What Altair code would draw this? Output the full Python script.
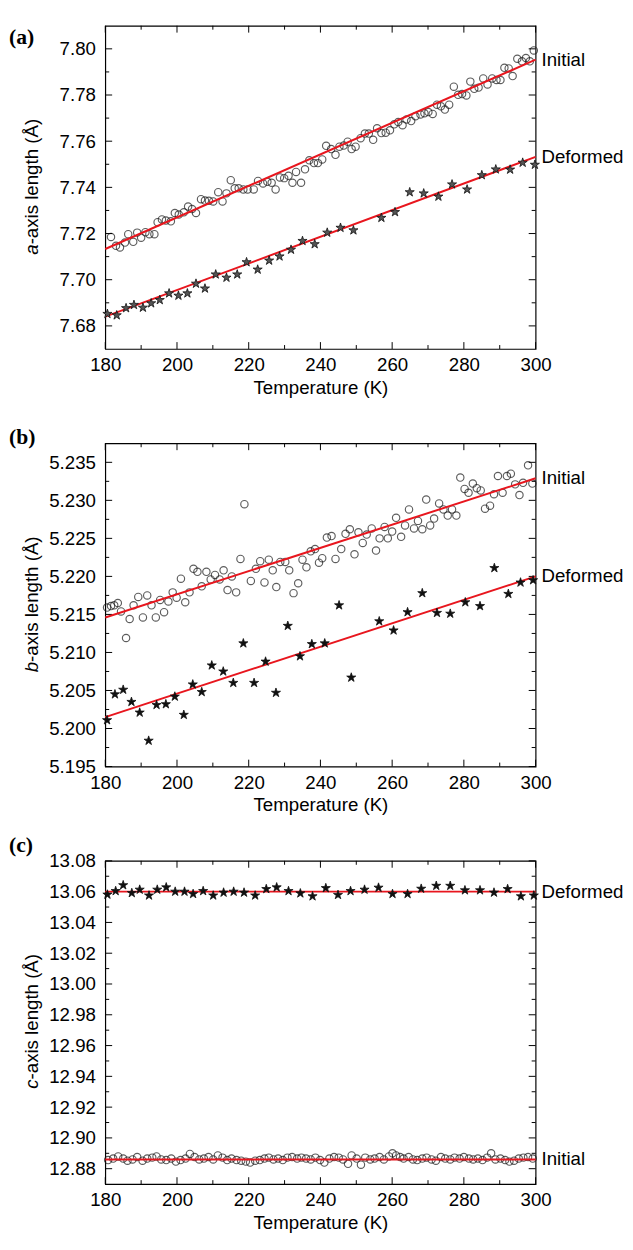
import altair as alt
import pandas as pd

FONT = "Liberation Sans"
RED = "#e8161e"
W, H = 438, 329
FS = 19
STAR = ("M0,-1L0.2245,-0.309L0.9511,-0.309L0.3633,0.118L0.5878,0.809L0,0.382"
        "L-0.5878,0.809L-0.3633,0.118L-0.9511,-0.309L-0.2245,-0.309Z")

T_MAJOR = [180, 200, 220, 240, 260, 280, 300]
T_MINOR = [190, 210, 230, 250, 270, 290]
SERIES = ["Initial", "Deformed"]
PANEL_LETTERS = ["(a)", "(b)", "(c)"]
AXIS_LETTERS = ["a", "b", "c"]
AXIS_REST = "-axis length (Å)"
X_TITLE = "Temperature (K)"

# ---------------- panel (a) ----------------
a_init_T = [181.6, 183.0, 184.1, 185.5, 186.4, 187.8, 188.9, 190.0, 191.2, 192.3,
            193.7, 194.6, 195.8, 196.9, 198.3, 199.4, 200.5, 201.9, 203.1, 204.2,
            205.3, 206.7, 207.8, 208.9, 210.1, 211.5, 212.7, 213.8, 215.0, 216.1,
            217.2, 218.5, 219.7, 221.4, 222.6, 224.0, 225.2, 226.4, 227.5, 228.7,
            229.9, 231.1, 232.2, 233.2, 234.6, 235.7, 236.9, 238.2, 239.3, 240.5,
            241.6, 243.0, 244.2, 245.3, 246.5, 247.6, 248.7, 249.8, 251.2, 252.4,
            253.5, 254.7, 255.8, 257.0, 258.2, 259.4, 260.6, 261.7, 262.9, 264.0,
            265.3, 266.5, 267.9, 269.0, 270.1, 271.3, 272.5, 273.6, 274.7, 275.9,
            277.2, 278.4, 279.5, 280.7, 281.8, 282.9, 284.1, 285.4, 286.6, 287.9,
            289.1, 290.2, 291.3, 292.5, 293.6, 294.9, 296.2, 297.3, 298.4, 299.5]
a_init_v = [7.7185, 7.7147, 7.7140, 7.7161, 7.7197, 7.7164, 7.7204, 7.7182, 7.7206, 7.7197,
            7.7197, 7.7249, 7.7261, 7.7256, 7.7253, 7.7289, 7.7282, 7.7292, 7.7317, 7.7306,
            7.7289, 7.7349, 7.7343, 7.7342, 7.7339, 7.7379, 7.7339, 7.7374, 7.7431, 7.7396,
            7.7396, 7.7391, 7.7391, 7.7391, 7.7428, 7.7417, 7.7424, 7.7420, 7.7391, 7.7443,
            7.7440, 7.7450, 7.7420, 7.7467, 7.7420, 7.7478, 7.7517, 7.7505, 7.7505, 7.7521,
            7.7580, 7.7566, 7.7541, 7.7576, 7.7581, 7.7598, 7.7566, 7.7576, 7.7613, 7.7633,
            7.7633, 7.7606, 7.7656, 7.7635, 7.7637, 7.7647, 7.7673, 7.7683, 7.7669, 7.7694,
            7.7687, 7.7708, 7.7716, 7.7721, 7.7726, 7.7718, 7.7758, 7.7751, 7.7737, 7.7758,
            7.7836, 7.7801, 7.7804, 7.7798, 7.7858, 7.7827, 7.7832, 7.7872, 7.7846, 7.7872,
            7.7865, 7.7865, 7.7918, 7.7915, 7.7882, 7.7957, 7.7946, 7.7960, 7.7946, 7.7993]
a_def_T = [180.6, 183.2, 185.8, 188.0, 190.5, 192.8, 195.2, 197.8, 200.4, 202.9,
           205.3, 207.8, 210.8, 213.8, 216.8, 219.4, 222.5, 225.7, 228.6, 231.8,
           235.0, 238.4, 241.9, 245.6, 249.2, 257.0, 260.8, 264.9, 268.8, 272.9,
           276.7, 280.9, 285.0, 288.9, 292.9, 296.4, 299.8]
a_def_v = [7.6852, 7.6846, 7.6877, 7.6891, 7.6879, 7.6898, 7.6912, 7.6941, 7.6931, 7.6941,
           7.6983, 7.6962, 7.7023, 7.7009, 7.7023, 7.7076, 7.7044, 7.7083, 7.7101, 7.7130,
           7.7168, 7.7154, 7.7204, 7.7225, 7.7214, 7.7268, 7.7293, 7.7379, 7.7374, 7.7360,
           7.7413, 7.7391, 7.7453, 7.7478, 7.7477, 7.7507, 7.7498]
a_fit_init = [7.7133, 7.7953]
a_fit_def = [7.6840, 7.7532]
a_domain = [7.67, 7.81]
a_major = [7.68, 7.70, 7.72, 7.74, 7.76, 7.78, 7.80]
a_minor = [7.69, 7.71, 7.73, 7.75, 7.77, 7.79]

# ---------------- panel (b) ----------------
b_init_T = [180.5, 181.6, 182.5, 183.5, 184.4, 185.8, 186.8, 187.9, 189.2, 190.5,
            191.7, 192.9, 194.1, 195.3, 196.4, 197.6, 198.8, 199.9, 201.1, 202.3,
            203.5, 204.6, 205.7, 206.9, 208.2, 209.4, 210.6, 211.9, 213.0, 214.1,
            215.3, 216.5, 217.7, 218.8, 220.6, 222.0, 223.2, 224.4, 225.6, 226.7,
            227.7, 228.8, 230.2, 231.3, 232.5, 233.8, 235.0, 236.1, 237.3, 238.5,
            239.6, 240.5, 241.8, 243.1, 244.2,
            245.8, 247.0, 248.2, 249.5, 250.6, 251.8, 252.9, 254.3, 255.5, 256.5,
            257.9, 258.8, 260.0, 261.1, 262.5, 263.6, 264.7, 266.1, 267.2, 268.4,
            269.5, 270.6, 271.7, 273.1, 274.3, 275.5, 276.7, 277.9, 279.0, 280.2,
            281.3, 282.5, 283.6, 284.7, 285.9, 287.3, 288.4, 289.5, 290.8, 292.0,
            293.1, 294.3, 295.5, 296.5, 297.9, 299.1]
b_init_v = [5.2159, 5.2161, 5.2162, 5.2165, 5.2154, 5.2119, 5.2144, 5.2162, 5.2173, 5.2146,
            5.2175, 5.2162, 5.2146, 5.2169, 5.2153, 5.2167, 5.2179, 5.2172, 5.2197, 5.2166,
            5.2179, 5.2210, 5.2206, 5.2187, 5.2206, 5.2196, 5.2202, 5.2196, 5.2208, 5.2182,
            5.2200, 5.2179, 5.2223, 5.2295, 5.2194, 5.2210, 5.2220, 5.2192, 5.2222, 5.2208,
            5.2186, 5.2219, 5.2219, 5.2208, 5.2178, 5.2191, 5.2222, 5.2212, 5.2233, 5.2236,
            5.2218, 5.2224, 5.2251, 5.2253, 5.2223,
            5.2236, 5.2256, 5.2262, 5.2229, 5.2258, 5.2244, 5.2255, 5.2263, 5.2234, 5.2250,
            5.2265, 5.2250, 5.2259, 5.2277, 5.2252, 5.2267, 5.2288, 5.2263, 5.2273, 5.2262,
            5.2301, 5.2267, 5.2276, 5.2296, 5.2288, 5.2280, 5.2288, 5.2280, 5.2330, 5.2315,
            5.2310, 5.2322, 5.2316, 5.2313, 5.2289, 5.2293, 5.2308, 5.2332, 5.2310, 5.2332,
            5.2335, 5.2321, 5.2307, 5.2323, 5.2346, 5.2322]
b_def_T = [180.5, 182.7, 185.0, 187.3, 189.6, 192.1, 194.3, 196.9, 199.4, 201.9,
           204.4, 206.9, 209.7, 212.9, 215.7, 218.5, 221.5, 224.7, 227.6, 230.9,
           234.3, 237.6, 241.2, 245.2, 248.6, 256.4, 260.4, 264.3, 268.4, 272.5,
           276.2, 280.4, 284.5, 288.5, 292.4, 295.8, 299.3]
b_def_v = [5.2011, 5.2045, 5.2051, 5.2035, 5.2021, 5.1984, 5.2031, 5.2032, 5.2042, 5.2018,
           5.2058, 5.2048, 5.2083, 5.2075, 5.2060, 5.2112, 5.2060, 5.2088, 5.2047, 5.2135,
           5.2095, 5.2111, 5.2112, 5.2162, 5.2067, 5.2141, 5.2129, 5.2153, 5.2178, 5.2152,
           5.2151, 5.2166, 5.2161, 5.2211, 5.2177, 5.2192, 5.2195]
b_fit_init = [5.2146, 5.2329]
b_fit_def = [5.2015, 5.2200]
b_domain = [5.195, 5.2375]
b_major = [5.195, 5.200, 5.205, 5.210, 5.215, 5.220, 5.225, 5.230, 5.235]
b_minor = [5.1975, 5.2025, 5.2075, 5.2125, 5.2175, 5.2225, 5.2275, 5.2325]

# ---------------- panel (c) ----------------
c_init_T = [180.8, 182.2, 183.6, 185.0, 186.2, 187.6, 188.9, 190.4, 191.7, 193.1,
            194.3, 195.6, 197.0, 198.4, 199.7, 201.0, 202.4, 203.6, 204.9, 206.2,
            207.5, 208.8, 210.1, 211.4, 212.7, 214.0, 215.2, 216.6, 217.9, 219.2,
            220.4, 221.8, 223.1, 224.4, 225.6, 226.9, 228.2, 229.5, 230.8, 232.1,
            233.5, 234.7, 236.0, 237.3, 238.6, 239.9, 241.1, 242.5, 243.8, 245.1,
            246.3, 247.7, 248.7, 250.1, 251.3, 252.5, 253.9, 255.1, 256.5, 257.7,
            259.1, 260.1, 261.1, 262.2, 263.2, 264.6, 265.8, 267.0, 268.4, 269.6,
            271.0, 272.2, 273.6, 274.8, 276.2, 277.4, 278.8, 280.0, 281.4, 282.6,
            283.9, 285.2, 286.5, 287.6, 288.8, 290.2, 291.5, 292.7, 294.0, 295.3,
            296.6, 297.9, 299.2]
c_init_v = [12.8856, 12.8866, 12.8880, 12.8866, 12.8852, 12.8860, 12.8876, 12.8852, 12.8866, 12.8872,
            12.8880, 12.8860, 12.8856, 12.8866, 12.8846, 12.8856, 12.8866, 12.8896, 12.8876, 12.8860,
            12.8866, 12.8876, 12.8860, 12.8886, 12.8872, 12.8856, 12.8866, 12.8856, 12.8852, 12.8846,
            12.8840, 12.8852, 12.8856, 12.8866, 12.8872, 12.8860, 12.8866, 12.8856, 12.8872, 12.8876,
            12.8866, 12.8872, 12.8866, 12.8860, 12.8872, 12.8856, 12.8840, 12.8866, 12.8876, 12.8872,
            12.8860, 12.8832, 12.8886, 12.8866, 12.8826, 12.8872, 12.8860, 12.8866, 12.8876, 12.8860,
            12.8880, 12.8900, 12.8886, 12.8876, 12.8866, 12.8876, 12.8860, 12.8856, 12.8866, 12.8872,
            12.8860, 12.8852, 12.8876, 12.8866, 12.8860, 12.8872, 12.8866, 12.8876, 12.8866, 12.8860,
            12.8866, 12.8856, 12.8872, 12.8900, 12.8860, 12.8866, 12.8856, 12.8846, 12.8852, 12.8866,
            12.8872, 12.8876, 12.8866]
c_def_T = [180.6, 182.9, 185.0, 187.4, 189.6, 192.2, 194.5, 197.0, 199.5, 202.1,
           204.5, 207.3, 210.1, 213.0, 215.8, 218.7, 221.8, 224.9, 227.8, 231.1,
           234.4, 237.8, 241.5, 244.9, 248.4, 252.3, 256.2, 260.1, 264.3, 268.1,
           272.3, 276.2, 280.3, 284.5, 288.4, 292.2, 295.9, 299.5]
c_def_v = [13.0581, 13.0604, 13.0642, 13.0591, 13.0613, 13.0575, 13.0613, 13.0628, 13.0600, 13.0600,
           13.0585, 13.0604, 13.0575, 13.0594, 13.0600, 13.0594, 13.0575, 13.0617, 13.0628, 13.0604,
           13.0589, 13.0570, 13.0623, 13.0579, 13.0604, 13.0613, 13.0626, 13.0585, 13.0585, 13.0619,
           13.0638, 13.0638, 13.0609, 13.0609, 13.0594, 13.0617, 13.0570, 13.0575]
c_fit_init = [12.8860, 12.8860]
c_fit_def = [13.0600, 13.0600]
c_domain = [12.87, 13.08]
c_major = [12.88, 12.90, 12.92, 12.94, 12.96, 12.98, 13.00, 13.02, 13.04, 13.06, 13.08]
c_minor = [12.89, 12.91, 12.93, 12.95, 12.97, 12.99, 13.01, 13.03, 13.05, 13.07]

FIT_T = [180, 300]


def panel(idx, init_T, init_v, def_T, def_v, fit_init, fit_def, ydom, ymaj, ymin, fmt,
          letter_y, star_fill):
    x = alt.X("T:Q", scale=alt.Scale(domain=[180, 300], nice=False, zero=False),
              axis=alt.Axis(values=T_MAJOR, format="d", ticks=False, domain=False, grid=False,
                            labelFontSize=FS, labelPadding=7, labelColor="black", labelFont=FONT,
                            labelFlush=False,
                            title=X_TITLE, titleFontSize=FS, titleFont=FONT,
                            titleFontWeight="normal", titleColor="black", titlePadding=4))
    y = alt.Y("v:Q", scale=alt.Scale(domain=ydom, nice=False, zero=False),
              axis=alt.Axis(values=ymaj, format=fmt, ticks=False, domain=False, grid=False,
                            labelFontSize=FS, labelPadding=10, labelColor="black", labelFont=FONT,
                            labelFlush=False, title=""))

    init_df = pd.DataFrame({"T": init_T, "v": init_v})
    def_df = pd.DataFrame({"T": def_T, "v": def_v})
    fit_df = pd.DataFrame({"T": FIT_T + FIT_T, "v": fit_init + fit_def,
                           "series": [SERIES[0]] * 2 + [SERIES[1]] * 2})
    lab_df = pd.DataFrame({"T": [300, 300], "v": [fit_init[1], fit_def[1]], "label": SERIES})
    one = pd.DataFrame({"k": [0]})

    pts_init = alt.Chart(init_df).mark_point(shape="circle", filled=False, size=56,
                                             stroke="#1a1a1a", strokeWidth=1.15).encode(x=x, y=y)
    pts_def = alt.Chart(def_df).mark_point(shape=STAR, filled=True, size=95, fill=star_fill,
                                           stroke="#111111", strokeWidth=0.8,
                                           opacity=1).encode(x=x, y=y)
    lines = alt.Chart(fit_df).mark_line(color=RED, strokeWidth=2).encode(
        x=x, y=y, detail="series:N")
    labels = alt.Chart(lab_df).mark_text(align="left", baseline="middle", dx=6, fontSize=FS,
                                         font=FONT, color="black").encode(x=x, y=y, text="label:N")
    letter = alt.Chart(one).mark_text(align="left", baseline="middle", fontSize=22,
                                      font="Liberation Serif", fontWeight="bold",
                                      color="black").encode(
        x=alt.value(-98), y=alt.value(letter_y), text=alt.value(PANEL_LETTERS[idx]))
    P = H / 2 + 58
    ytitle_a = alt.Chart(one).mark_text(angle=270, align="right", baseline="middle", fontSize=FS,
                                        font=FONT, fontStyle="italic", color="black").encode(
        x=alt.value(-74), y=alt.value(P), text=alt.value(AXIS_LETTERS[idx]))
    ytitle_b = alt.Chart(one).mark_text(angle=270, align="left", baseline="middle", fontSize=FS,
                                        font=FONT, color="black").encode(
        x=alt.value(-74), y=alt.value(P), text=alt.value(AXIS_REST))

    xmaj = pd.DataFrame({"T": T_MAJOR})
    xmin = pd.DataFrame({"T": T_MINOR})
    ymaj_df = pd.DataFrame({"v": ymaj})
    ymin_df = pd.DataFrame({"v": ymin})
    tick = dict(color="black", strokeWidth=1)
    layers = [
        pts_init,
        alt.Chart(xmaj).mark_rule(**tick).encode(x=x, y=alt.value(H), y2=alt.value(H - 7)),
        alt.Chart(xmaj).mark_rule(**tick).encode(x=x, y=alt.value(0), y2=alt.value(7)),
        alt.Chart(xmin).mark_rule(**tick).encode(x=x, y=alt.value(H), y2=alt.value(H - 4)),
        alt.Chart(xmin).mark_rule(**tick).encode(x=x, y=alt.value(0), y2=alt.value(4)),
        alt.Chart(ymaj_df).mark_rule(**tick).encode(y=y, x=alt.value(0), x2=alt.value(7)),
        alt.Chart(ymaj_df).mark_rule(**tick).encode(y=y, x=alt.value(W), x2=alt.value(W - 7)),
        alt.Chart(ymin_df).mark_rule(**tick).encode(y=y, x=alt.value(0), x2=alt.value(4)),
        alt.Chart(ymin_df).mark_rule(**tick).encode(y=y, x=alt.value(W), x2=alt.value(W - 4)),
        lines, pts_def, labels, letter, ytitle_a, ytitle_b,
    ]
    return alt.layer(*layers).properties(width=W, height=H)


pa = panel(0, a_init_T, a_init_v, a_def_T, a_def_v, a_fit_init, a_fit_def,
           a_domain, a_major, a_minor, ".2f", 12, "#555555")
pb = panel(1, b_init_T, b_init_v, b_def_T, b_def_v, b_fit_init, b_fit_def,
           b_domain, b_major, b_minor, ".3f", -6, "#111111")
pc = panel(2, c_init_T, c_init_v, c_def_T, c_def_v, c_fit_init, c_fit_def,
           c_domain, c_major, c_minor, ".2f", -16, "#111111")

chart = alt.vconcat(pa, pb, pc, spacing=96, bounds="flush").properties(
    padding={"left": 0, "top": 5, "right": 0, "bottom": 5},
    background="white",
).configure_view(stroke="black", strokeWidth=1.2)

chart.save("out.html", embed_options={"renderer": "svg", "actions": False})
